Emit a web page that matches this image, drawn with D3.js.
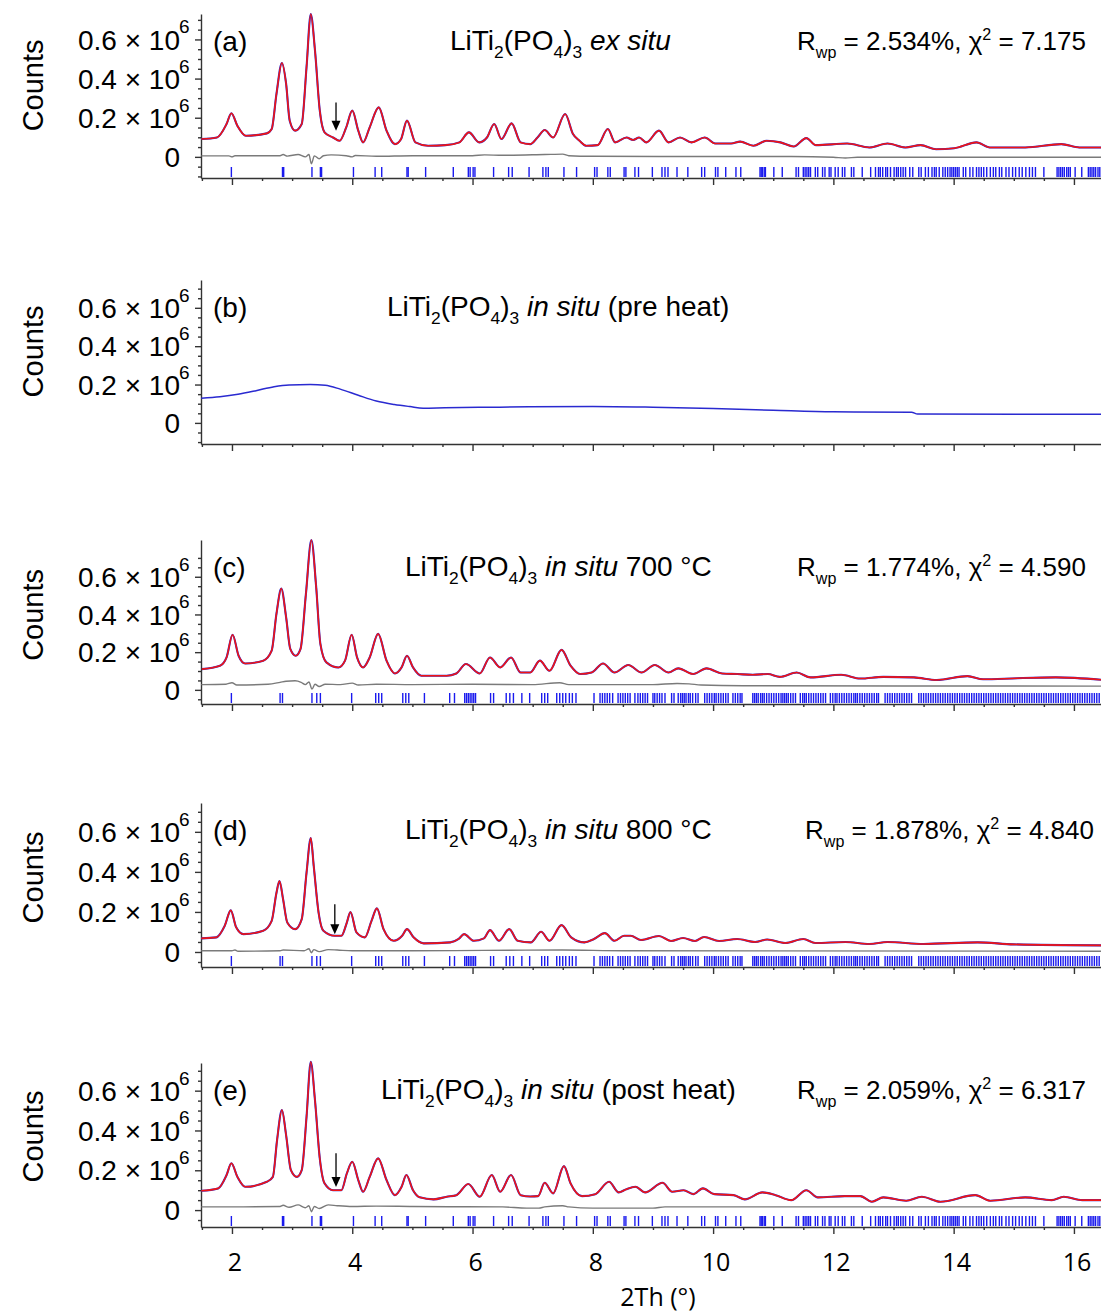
<!DOCTYPE html>
<html>
<head>
<meta charset="utf-8">
<style>
body { margin: 0; background: #fff; }
svg { display: block; }
</style>
</head>
<body>
<script src="https://cdn.jsdelivr.net/npm/d3@7"></script>
<script>

const width = 1101;
const height = 1313;

// ---- data (counts in units of 10^6, x in degrees 2Th) ----
const panelLabels = ['(a)', '(b)', '(c)', '(d)', '(e)'];
const titleTail = [
  [[' ', ''], ['ex situ', 'it']],
  [[' ', ''], ['in situ', 'it'], [' (pre heat)', '']],
  [[' ', ''], ['in situ', 'it'], [' 700 °C', '']],
  [[' ', ''], ['in situ', 'it'], [' 800 °C', '']],
  [[' ', ''], ['in situ', 'it'], [' (post heat)', '']]
];
const rwp = ['2.534', null, '1.774', '1.878', '2.059'];
const chi2 = ['7.175', null, '4.590', '4.840', '6.317'];

const yMins = [-0.108, -0.11, -0.075, -0.075, -0.085];
const yMaxes = [0.730, 0.745, 0.795, 0.744, 0.739];
const yMajor = [0, 0.2, 0.4, 0.6];
const yMajorLabels = ['0', '0.2 × 10', '0.4 × 10', '0.6 × 10'];
const yMinor = [-0.1, -0.05, 0.05, 0.1, 0.15, 0.25, 0.3, 0.35, 0.45, 0.5, 0.55, 0.65, 0.7];
const xMajor = [2, 4, 6, 8, 10, 12, 14, 16];
const xMinor = [1.5, 2.5, 3, 3.5, 4.5, 5, 5.5, 6.5, 7, 7.5, 8.5, 9, 9.5, 10.5, 11, 11.5,
  12.5, 13, 13.5, 14.5, 15, 15.5, 16.5];

const profileA = [[1.49,0.091],[1.75,0.099],[1.91,0.168],[1.99,0.223],[2.09,0.159],[2.23,0.108],
  [2.58,0.120],[2.66,0.142],[2.74,0.322],[2.83,0.480],[2.90,0.374],[2.96,0.185],[3.05,0.134],
  [3.16,0.168],[3.24,0.459],[3.31,0.730],[3.38,0.545],[3.46,0.237],[3.54,0.125],[3.68,0.099],
  [3.79,0.082],[3.90,0.151],[4.00,0.237],[4.10,0.134],[4.18,0.074],[4.29,0.151],[4.44,0.253],
  [4.57,0.134],[4.71,0.065],[4.81,0.090],[4.91,0.185],[5.05,0.074],[5.26,0.057],[5.55,0.060],
  [5.78,0.074],[5.94,0.125],[6.11,0.074],[6.24,0.099],[6.36,0.168],[6.48,0.091],[6.65,0.171],
  [6.80,0.074],[6.96,0.065],[7.08,0.099],[7.20,0.137],[7.34,0.099],[7.54,0.219],[7.67,0.117],
  [7.78,0.082],[7.89,0.057],[8.08,0.060],[8.25,0.142],[8.37,0.074],[8.56,0.099],[8.67,0.086],
  [8.77,0.099],[8.89,0.074],[9.10,0.134],[9.26,0.074],[9.45,0.099],[9.64,0.074],[9.86,0.099],
  [10.04,0.068],[10.30,0.068],[10.45,0.078],[10.67,0.057],[10.89,0.082],[11.12,0.074],
  [11.34,0.053],[11.55,0.096],[11.71,0.060],[12.23,0.068],[12.60,0.048],[12.90,0.068],
  [13.20,0.048],[13.45,0.060],[13.71,0.039],[14.01,0.044],[14.38,0.074],[14.60,0.048],
  [15.19,0.048],[15.79,0.065],[16.09,0.048],[16.45,0.048]];

const profileB = [[1.49,0.128],[1.80,0.136],[2.10,0.149],[2.40,0.168],[2.70,0.189],[2.95,0.198],
  [3.30,0.200],[3.55,0.196],[3.80,0.176],[4.10,0.144],[4.40,0.114],[4.70,0.096],[4.96,0.085],
  [5.18,0.077],[5.54,0.079],[6.45,0.082],[8.00,0.086],[9.00,0.082],[10.00,0.075],[11.00,0.066],
  [12.00,0.058],[13.30,0.056],[13.40,0.046],[16.45,0.045]];

const profileC = [[1.50,0.110],[1.80,0.128],[1.91,0.172],[2.01,0.292],[2.11,0.181],[2.22,0.140],
  [2.52,0.155],[2.66,0.208],[2.74,0.404],[2.82,0.537],[2.90,0.386],[2.97,0.217],[3.06,0.181],
  [3.14,0.217],[3.23,0.510],[3.32,0.795],[3.40,0.546],[3.47,0.244],[3.57,0.146],[3.77,0.119],
  [3.88,0.155],[3.99,0.292],[4.08,0.172],[4.18,0.119],[4.29,0.172],[4.43,0.297],[4.57,0.155],
  [4.71,0.087],[4.82,0.119],[4.91,0.181],[5.01,0.119],[5.15,0.075],[5.57,0.075],[5.73,0.087],
  [5.89,0.137],[6.12,0.087],[6.29,0.172],[6.46,0.119],[6.64,0.172],[6.80,0.092],[6.96,0.092],
  [7.12,0.155],[7.28,0.101],[7.48,0.212],[7.63,0.128],[7.79,0.084],[7.98,0.092],[8.17,0.140],
  [8.36,0.092],[8.59,0.132],[8.81,0.092],[9.03,0.132],[9.26,0.092],[9.42,0.114],[9.67,0.084],
  [9.89,0.114],[10.15,0.087],[10.40,0.084],[10.66,0.080],[10.91,0.084],[11.11,0.069],
  [11.39,0.092],[11.62,0.066],[12.13,0.080],[12.45,0.060],[12.83,0.069],[13.34,0.066],
  [13.72,0.052],[14.23,0.073],[14.49,0.056],[15.06,0.062],[15.70,0.066],[16.45,0.054]];

const profileD = [[1.49,0.068],[1.74,0.073],[1.88,0.131],[1.98,0.208],[2.07,0.123],[2.19,0.089],
  [2.52,0.106],[2.66,0.155],[2.74,0.296],[2.79,0.354],[2.85,0.263],[2.92,0.147],[3.05,0.114],
  [3.16,0.164],[3.24,0.396],[3.31,0.569],[3.36,0.428],[3.44,0.197],[3.52,0.106],[3.71,0.081],
  [3.82,0.081],[3.91,0.147],[3.97,0.200],[4.07,0.098],[4.21,0.073],[4.32,0.155],[4.41,0.218],
  [4.52,0.114],[4.69,0.056],[4.83,0.081],[4.91,0.114],[5.02,0.073],[5.19,0.043],[5.63,0.048],
  [5.77,0.065],[5.86,0.089],[6.02,0.056],[6.19,0.068],[6.29,0.109],[6.44,0.056],[6.61,0.114],
  [6.75,0.056],[6.97,0.048],[7.14,0.101],[7.28,0.056],[7.48,0.134],[7.64,0.073],[7.86,0.048],
  [8.02,0.065],[8.20,0.094],[8.36,0.056],[8.52,0.081],[8.63,0.081],[8.80,0.060],[9.10,0.080],
  [9.30,0.055],[9.50,0.070],[9.70,0.055],[9.85,0.075],[10.10,0.055],[10.40,0.065],[10.70,0.050],
  [10.90,0.062],[11.20,0.045],[11.50,0.065],[11.70,0.045],[12.20,0.050],[12.60,0.040],
  [12.90,0.050],[13.50,0.040],[14.40,0.048],[15.00,0.038],[16.45,0.033]];

const profileE = [[1.49,0.097],[1.77,0.109],[1.91,0.176],[1.99,0.235],[2.09,0.167],[2.22,0.117],
  [2.58,0.142],[2.68,0.167],[2.75,0.352],[2.83,0.503],[2.90,0.377],[2.98,0.201],[3.08,0.167],
  [3.16,0.201],[3.24,0.469],[3.31,0.745],[3.38,0.553],[3.46,0.260],[3.54,0.134],[3.68,0.100],
  [3.82,0.100],[3.91,0.184],[4.00,0.243],[4.10,0.151],[4.18,0.092],[4.29,0.167],[4.43,0.260],
  [4.57,0.151],[4.71,0.075],[4.82,0.117],[4.90,0.176],[5.01,0.100],[5.12,0.064],[5.35,0.054],
  [5.57,0.067],[5.73,0.075],[5.93,0.131],[6.12,0.067],[6.32,0.176],[6.46,0.092],[6.64,0.176],
  [6.80,0.075],[6.96,0.068],[7.09,0.070],[7.20,0.137],[7.34,0.084],[7.52,0.221],[7.63,0.134],
  [7.82,0.070],[8.04,0.080],[8.27,0.142],[8.43,0.089],[8.55,0.104],[8.71,0.117],[8.87,0.089],
  [9.16,0.137],[9.32,0.092],[9.51,0.100],[9.67,0.080],[9.83,0.109],[10.02,0.080],[10.34,0.075],
  [10.53,0.054],[10.82,0.089],[11.04,0.075],[11.30,0.050],[11.55,0.100],[11.74,0.064],
  [12.19,0.070],[12.45,0.070],[12.64,0.042],[12.83,0.064],[13.21,0.047],[13.47,0.067],
  [13.78,0.042],[14.36,0.075],[14.61,0.047],[15.19,0.064],[15.63,0.050],[15.83,0.067],
  [16.14,0.050],[16.45,0.050]];

const diffA = [[1.49,0.005],[1.95,0.005],[2.00,0.000],[2.05,0.006],[2.80,0.006],[2.85,0.012],
  [2.92,0.004],[3.10,0.012],[3.22,0.000],[3.28,0.012],[3.32,-0.035],[3.37,0.005],[3.45,-0.010],
  [3.52,0.006],[3.65,0.010],[3.90,0.006],[4.00,0.000],[4.05,0.007],[4.40,0.003],[5.00,0.006],
  [6.00,0.006],[6.20,0.010],[6.50,0.008],[7.20,0.012],[7.50,0.014],[7.60,0.006],[8.00,0.003],
  [10.00,0.002],[11.30,0.002],[12.00,-0.002],[12.20,-0.006],[12.40,-0.002],[14.50,-0.002],
  [16.45,-0.002]];

const diffC = [[1.49,0.028],[1.90,0.030],[2.00,0.038],[2.08,0.026],[2.60,0.030],[2.80,0.040],
  [2.90,0.046],[3.05,0.048],[3.15,0.040],[3.22,0.028],[3.28,0.042],[3.33,0.004],[3.38,0.030],
  [3.45,0.018],[3.55,0.030],[3.80,0.028],[4.00,0.036],[4.10,0.026],[4.40,0.030],[5.00,0.028],
  [6.00,0.030],[7.00,0.028],[7.45,0.038],[7.60,0.028],[9.00,0.028],[9.40,0.034],[9.60,0.032],
  [9.80,0.026],[10.50,0.022],[16.45,0.020]];

const diffD = [[1.49,0.006],[2.00,0.006],[2.05,0.010],[2.10,0.004],[2.80,0.006],[2.85,0.010],
  [3.20,0.006],[3.28,0.016],[3.32,-0.004],[3.36,0.012],[3.45,0.002],[3.60,0.012],[3.75,0.010],
  [4.00,0.006],[5.00,0.006],[6.20,0.008],[7.50,0.010],[8.50,0.006],[16.45,0.004]];

const diffE = [[1.49,0.016],[2.00,0.016],[2.80,0.018],[2.85,0.024],[2.95,0.014],[3.10,0.026],
  [3.22,0.012],[3.28,0.022],[3.32,-0.008],[3.37,0.018],[3.45,0.008],[3.60,0.026],[3.75,0.022],
  [4.00,0.018],[4.40,0.020],[5.00,0.018],[6.50,0.016],[6.90,0.010],[7.10,0.010],[7.20,0.016],
  [7.50,0.022],[7.60,0.016],[8.00,0.010],[9.00,0.010],[9.20,0.016],[11.00,0.016],[16.45,0.016]];

// reflection positions, ambient runs (a, e)
const reflRT = [1.99, 2.84, 2.86, 3.33, 3.47, 3.49, 4.02, 4.38, 4.49, 4.91, 4.93, 5.22, 5.68,
  5.93, 5.96, 6.01, 6.04, 6.35, 6.60, 6.66, 6.94, 7.17, 7.22, 7.26, 7.52, 7.73, 8.03, 8.07, 8.25,
  8.29, 8.52, 8.55, 8.70, 8.76, 8.99, 9.15, 9.20, 9.25, 9.40, 9.58, 9.81, 9.86, 10.04, 10.08,
  10.21, 10.38, 10.46, 10.78, 10.80, 10.82, 10.85, 10.87, 11.01, 11.15, 11.38, 11.42, 11.50,
  11.53, 11.56, 11.59, 11.62, 11.70, 11.74, 11.82, 11.86, 11.93, 11.96, 12.03, 12.08, 12.15,
  12.19, 12.30, 12.34, 12.48, 12.62, 12.70, 12.75, 12.78, 12.82, 12.87, 12.90, 12.95, 13.01,
  13.05, 13.08, 13.12, 13.16, 13.20, 13.27, 13.32, 13.42, 13.46, 13.53, 13.58, 13.64, 13.68,
  13.71, 13.76, 13.82, 13.86, 13.90, 13.94, 13.97, 14.00, 14.03, 14.06, 14.09, 14.16, 14.20,
  14.27, 14.32, 14.38, 14.42, 14.46, 14.50, 14.55, 14.61, 14.66, 14.70, 14.76, 14.80, 14.87,
  14.92, 14.98, 15.03, 15.09, 15.14, 15.20, 15.26, 15.31, 15.36, 15.50, 15.72, 15.75, 15.78,
  15.81, 15.84, 15.88, 15.91, 15.94, 16.02, 16.13, 16.24, 16.27, 16.30, 16.33, 16.36, 16.40,
  16.43];

// reflection positions, heated runs (c, d)
const reflHT = [1.99, 2.80, 2.84, 3.33, 3.41, 3.47, 3.99, 4.39, 4.44, 4.49, 4.84, 4.89, 4.94,
  5.20, 5.62, 5.70, 5.87, 5.90, 5.93, 5.96, 5.99, 6.02, 6.05, 6.30, 6.35, 6.56, 6.62, 6.68, 6.82,
  6.95, 7.15, 7.20, 7.25, 7.40, 7.45, 7.50, 7.55, 7.61, 7.66, 7.72, 8.02, 8.12, 8.16, 8.20, 8.24,
  8.28, 8.33, 8.42, 8.46, 8.50, 8.54, 8.58, 8.62, 8.70, 8.75, 8.79, 8.83, 8.87, 8.91, 9.00, 9.03,
  9.07, 9.11, 9.15, 9.20, 9.31, 9.35, 9.42, 9.46, 9.49, 9.52, 9.55, 9.59, 9.62, 9.66, 9.71, 9.75,
  9.86, 9.90, 9.94, 9.98, 10.02, 10.05, 10.09, 10.13, 10.17, 10.21, 10.25, 10.33, 10.37, 10.41,
  10.45, 10.48, 10.66, 10.69, 10.72, 10.75, 10.79, 10.82, 10.85, 10.89, 10.93, 10.97, 11.01,
  11.05, 11.09, 11.13, 11.16, 11.19, 11.22, 11.25, 11.29, 11.33, 11.37, 11.45, 11.49, 11.52,
  11.55, 11.59, 11.63, 11.67, 11.71, 11.75, 11.79, 11.83, 11.87, 11.95, 11.99, 12.03, 12.06,
  12.10, 12.14, 12.18, 12.22, 12.26, 12.30, 12.34, 12.37, 12.40, 12.44, 12.48, 12.52, 12.56,
  12.60, 12.64, 12.68, 12.72, 12.75, 12.86, 12.90, 12.94, 12.98, 13.02, 13.06, 13.10, 13.14,
  13.18, 13.22, 13.26, 13.30, 13.42, 13.46, 13.50, 13.54, 13.58, 13.62, 13.66, 13.70, 13.74,
  13.78, 13.82, 13.86, 13.90, 13.94, 13.98, 14.02, 14.06, 14.10, 14.14, 14.18, 14.22, 14.26,
  14.30, 14.34, 14.38, 14.42, 14.46, 14.50, 14.54, 14.58, 14.62, 14.66, 14.70, 14.74, 14.78,
  14.82, 14.86, 14.90, 14.94, 14.98, 15.02, 15.06, 15.10, 15.14, 15.18, 15.22, 15.26, 15.30,
  15.34, 15.38, 15.42, 15.46, 15.50, 15.54, 15.58, 15.62, 15.66, 15.70, 15.74, 15.78, 15.82,
  15.86, 15.90, 15.94, 15.98, 16.02, 16.06, 16.10, 16.14, 16.18, 16.22, 16.26, 16.30, 16.34,
  16.38, 16.42];

const profiles = [profileA, profileB, profileC, profileD, profileE];
const diffs = [diffA, null, diffC, diffD, diffE];
const refls = [reflRT, null, reflHT, reflHT, reflRT];

// marked shoulder (arrow): x, from, to
const arrowX = [3.73, null, null, 3.71, 3.73];
const arrowFrom = [0.278, null, null, 0.238, 0.286];
const arrowTo = [0.134, null, null, 0.089, 0.116];

// ---- layout ----
const panelTop = [14, 280, 540, 803, 1063];
const panelH = 164;
const titleX = [450, 387, 405, 405, 381];
const fitX = [797, null, 797, 805, 797];
const axisX = 201;

const sans = '"Liberation Sans", Arial, sans-serif';
const xFont = '"Open Sans", "DejaVu Sans", sans-serif';

const svg = d3.select('body')
  .append('svg')
  .attr('width', width)
  .attr('height', height);

const x = d3.scaleLinear().domain([1.485, 16.45]).range([axisX, 1101]);

function richText(sel, segs, size) {
  let shift = 0;
  segs.forEach(([t, kind]) => {
    const small = kind === 'sub' || kind === 'sup';
    const want = kind === 'sub' ? size * 0.3 : kind === 'sup' ? -size * 0.4 : 0;
    sel.append('tspan')
      .attr('dy', want - shift)
      .attr('font-size', small ? size * 0.62 : size)
      .attr('font-style', kind === 'it' ? 'italic' : null)
      .text(t);
    shift = want;
  });
}

const formula = [['LiTi', ''], ['2', 'sub'], ['(PO', ''], ['4', 'sub'], [')', ''], ['3', 'sub']];

panelLabels.forEach((label, i) => {
  const top = panelTop[i];
  const bottom = top + panelH;
  const y = d3.scaleLinear().domain([yMins[i], yMaxes[i]]).range([bottom, top]);
  const g = svg.append('g');

  // axes
  g.append('g')
    .attr('transform', `translate(${axisX},0)`)
    .call(d3.axisLeft(y).tickValues(yMajor).tickSize(6).tickSizeOuter(0).tickFormat(''));
  g.append('g')
    .attr('transform', `translate(${axisX},0)`)
    .call(d3.axisLeft(y).tickValues(yMinor.filter(v => v > yMins[i] && v < yMaxes[i]))
      .tickSize(3).tickSizeOuter(0).tickFormat(''))
    .call(s => s.select('.domain').remove());
  g.append('g')
    .attr('transform', `translate(0,${bottom})`)
    .call(d3.axisBottom(x).tickValues(xMajor).tickSize(7).tickSizeOuter(0).tickFormat(''));
  g.append('g')
    .attr('transform', `translate(0,${bottom})`)
    .call(d3.axisBottom(x).tickValues(xMinor.filter(v => v >= 1.5 && v <= 16.45))
      .tickSize(3).tickSizeOuter(0).tickFormat(''))
    .call(s => s.select('.domain').remove());
  g.selectAll('.domain, .tick line').attr('stroke', '#333').attr('stroke-width', 1.4);

  // y tick labels
  yMajor.forEach((v, k) => {
    g.append('text')
      .attr('x', 180).attr('y', y(v)).attr('dy', '0.36em')
      .attr('text-anchor', 'end')
      .attr('font-family', sans).attr('font-size', 28)
      .text(yMajorLabels[k]);
    if (v !== 0) {
      g.append('text')
        .attr('x', 179).attr('y', y(v) - 6)
        .attr('font-family', sans).attr('font-size', 19)
        .text('6');
    }
  });

  g.append('text')
    .attr('transform', `translate(43,${y(yMaxes[i] / 2)}) rotate(-90)`)
    .attr('text-anchor', 'middle')
    .attr('font-family', sans).attr('font-size', 29)
    .text('Counts');

  // reflection markers
  if (refls[i]) {
    g.selectAll('line.refl')
      .data(refls[i].filter(d => x(d) <= 1101))
      .join('line')
      .attr('class', 'refl')
      .attr('x1', d => x(d)).attr('x2', d => x(d))
      .attr('y1', bottom - 11).attr('y2', bottom - 1)
      .attr('stroke', '#1a1aee').attr('stroke-width', 1.4);
  }

  const line = d3.line()
    .x(d => x(d[0])).y(d => y(d[1]))
    .curve(d3.curveMonotoneX);

  if (diffs[i]) {
    g.append('path').datum(diffs[i])
      .attr('d', line).attr('fill', 'none')
      .attr('stroke', '#7a7a7a').attr('stroke-width', 1.4);
  }

  // observed (blue) and calculated (red)
  g.append('path').datum(profiles[i])
    .attr('d', line).attr('fill', 'none')
    .attr('stroke', '#2a2ad0').attr('stroke-width', diffs[i] ? 2.1 : 1.5);
  if (diffs[i]) {
    g.append('path').datum(profiles[i])
      .attr('d', line).attr('fill', 'none')
      .attr('stroke', '#f01414').attr('stroke-width', 1.6);
  }

  // arrow
  if (arrowX[i] !== null) {
    const ax = x(arrowX[i]);
    const y0 = y(arrowFrom[i]);
    const y1 = y(arrowTo[i]);
    g.append('line')
      .attr('x1', ax).attr('x2', ax).attr('y1', y0).attr('y2', y1 - 6)
      .attr('stroke', '#000').attr('stroke-width', 1.3);
    g.append('path')
      .attr('d', `M${ax - 4.5},${y1 - 10}L${ax + 4.5},${y1 - 10}L${ax},${y1}Z`)
      .attr('fill', '#000');
  }

  // panel texts
  g.append('text')
    .attr('x', 213).attr('y', top + 37)
    .attr('font-family', sans).attr('font-size', 28)
    .text(label);

  const t = g.append('text')
    .attr('x', titleX[i]).attr('y', top + 36)
    .attr('font-family', sans);
  richText(t, formula.concat(titleTail[i]), 28);

  if (rwp[i]) {
    const f = g.append('text')
      .attr('x', fitX[i]).attr('y', top + 36)
      .attr('font-family', sans);
    richText(f, [['R', ''], ['wp', 'sub'], [` = ${rwp[i]}%, χ`, ''], ['2', 'sup'], [` = ${chi2[i]}`, '']], 26);
  }

  // tick labels on the bottom panel only
  if (i === panelLabels.length - 1) {
    g.selectAll('text.xl')
      .data(xMajor)
      .join('text')
      .attr('class', 'xl')
      .attr('x', d => x(d) + 3).attr('y', bottom + 44)
      .attr('text-anchor', 'middle')
      .attr('font-family', xFont).attr('font-size', 25)
      .text(d => d);
    g.append('text')
      .attr('x', 658).attr('y', bottom + 79)
      .attr('text-anchor', 'middle')
      .attr('font-family', xFont).attr('font-size', 25)
      .text('2Th (°)');
  }
});

</script>
</body>
</html>
